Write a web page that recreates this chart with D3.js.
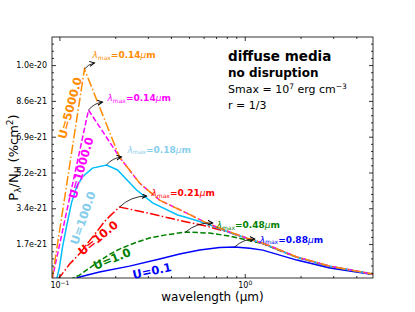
<!DOCTYPE html>
<html>
<head>
<meta charset="utf-8">
<script src="https://cdn.jsdelivr.net/npm/d3@7"></script>
<style>
  body { margin: 0; background: #fff; }
  svg { font-family: "DejaVu Sans", sans-serif; }
</style>
</head>
<body>
<div id="canvas"></div>
<script>
// P_lambda / N_H in units of 1e-21, wavelength in micron
var uValues = [0.1, 1.0, 10.0, 100.0, 1000.0, 5000.0];
var lambdaMax = [0.88, 0.48, 0.21, 0.18, 0.14, 0.14];

var curveU0_1 = [[0.1176,0],[0.1283,0.14],[0.1645,0.375],[0.2389,0.66],[0.3472,1.0],[0.4454,1.24],
  [0.571,1.43],[0.732,1.55],[0.883,1.58],[1.064,1.52],[1.251,1.43],[1.91,0.95],[2.88,0.57],[4.92,0.26]];
var curveU1 = [[0.1133,0],[0.1283,0.23],[0.1453,0.57],[0.1645,0.9],[0.1863,1.23],[0.211,1.48],[0.2543,1.77],
  [0.3066,2.01],[0.3694,2.15],[0.4799,2.3],[0.647,2.25],[0.8297,2.1],[1.105,1.85],[1.251,1.74],
  [1.91,1.08],[2.88,0.64],[4.92,0.27]];
var curveU10 = [[0.0975,0],[0.1038,0.3],[0.1133,0.75],[0.1283,1.25],[0.1417,1.75],[0.1585,2.3],[0.1751,2.8],
  [0.1863,3.05],[0.1995,3.3],[0.211,3.5],[0.2706,3.3],[0.3472,3.08],[0.486,2.78],[0.6233,2.58],
  [0.8297,2.27],[1.025,1.99],[1.251,1.75],[1.91,1.09],[2.88,0.65],[4.92,0.27]];
var curveU100 = [[0.0965,0],[0.1,0.6],[0.1038,1.55],[0.1091,2.54],[0.1161,3.69],[0.1236,4.46],[0.1331,4.94],
  [0.1507,5.37],[0.1795,5.52],[0.2058,5.28],[0.2607,4.32],[0.3184,3.7],[0.4345,3.12],[0.486,3.0],
  [0.6233,2.7],[0.8297,2.28],[1.025,2.0],[1.251,1.76],[1.91,1.09],[2.88,0.65],[4.92,0.27]];
var curveU1000 = [[0.0912,0],[0.1435,8.16],[0.175,7.0],[0.211,5.9],[0.2706,4.65],[0.3472,3.83],[0.486,3.21],
  [0.6233,2.73],[0.8297,2.3],[1.025,2.01],[1.251,1.77],[1.91,1.1],[2.88,0.66],[4.92,0.28]];
var curveU5000 = [[0.0912,0],[0.1365,10.13],[0.211,5.9],[0.2706,4.65],[0.3472,3.83],[0.486,3.21],
  [0.6233,2.73],[0.8297,2.3],[1.025,2.01],[1.251,1.77],[1.91,1.1],[2.88,0.66],[4.92,0.28]];

var curves = [curveU0_1, curveU1, curveU10, curveU100, curveU1000, curveU5000];

var yMajor = [1.72, 3.44, 5.16, 6.88, 8.6, 10.32];
var xMajor = [0.1, 1];
var xMinor = [0.2, 0.3, 0.4, 0.5, 0.6, 0.7, 0.8, 0.9, 2, 3, 4];

// styles
var lineColor = ['#0000ff', '#008000', '#ff0000', '#00bfff', '#ff00ff', '#ff8c00'];
var textColor = ['#0000ff', '#008000', '#ff0000', '#87ceeb', '#ff00ff', '#ff8c00'];
var dashes = [null, '5.5,2.4', '9.6,2.4,1.5,2.4', null, '5.5,2.4', '9.6,2.4,1.5,2.4'];
// U label: centre (px) and angle
var uLabelPos = [[152,271,-12],[112,259,-22],[98,238,-39],[83,218,-71],[81,168,-74],[70,108,-75]];
// lambda_max annotation: text offset and arrow end offset from the peak (px)
var annText = [[25,-4],[31,-4],[32,-11],[21,-12],[19,-9],[8,-11]];
var annArrow = [[20,-8],[27,-9],[27,-11],[15,-8],[14,-8],[10,-6]];

var m = {t:37, r:42, b:34, l:52},
    w = 415 - m.l - m.r,
    h = 312 - m.t - m.b;

var svg = d3.select('#canvas').append('svg')
  .attr('width', 415).attr('height', 312);

svg.append('defs').append('clipPath').attr('id', 'clip')
  .append('rect').attr('width', w).attr('height', h);

svg.select('defs').append('marker')
  .attr('id', 'head')
  .attr('markerUnits', 'userSpaceOnUse')
  .attr('markerWidth', 8).attr('markerHeight', 8)
  .attr('refX', 5).attr('refY', 2.5)
  .attr('orient', 'auto')
  .append('path')
  .attr('d', 'M0,0 L5,2.5 L0,5')
  .attr('fill', 'none').attr('stroke', '#000').attr('stroke-width', 1);

var plot = svg.append('g')
  .attr('transform', 'translate(' + m.l + ',' + m.t + ')');

var x = d3.scaleLog().domain([0.0912, 4.92]).range([0, w]);
var y = d3.scaleLinear().domain([0.09, 11.67]).range([h, 0]);

// curves
var line = d3.line()
  .x(function(d) { return x(d[0]); })
  .y(function(d) { return y(d[1]); });

plot.append('g').attr('clip-path', 'url(#clip)')
  .selectAll('path').data(curves).enter()
  .append('path')
  .attr('d', line)
  .attr('fill', 'none')
  .attr('stroke', function(d, i) { return lineColor[i]; })
  .attr('stroke-width', 1.5)
  .attr('stroke-dasharray', function(d, i) { return dashes[i]; });

// axes
var yMinor = d3.range(1, 34).filter(function(k) { return k % 5; })
  .map(function(k) { return k * 0.344; });

function styleAxis(g) {
  g.select('.domain').remove();
  g.selectAll('.tick line').attr('stroke', '#000').attr('stroke-width', 0.8);
  g.attr('font-family', null).attr('font-size', 8);
  g.selectAll('.tick text').attr('fill', '#000');
}

var fmt = d3.format('.1e');

plot.append('g').attr('transform', 'translate(0,' + h + ')')
  .call(d3.axisBottom(x).tickValues(xMajor).tickSize(-4).tickSizeOuter(0).tickPadding(4))
  .call(styleAxis)
  .selectAll('.tick text')
  .each(function(d) {
    var t = d3.select(this).text('');
    t.append('tspan').text('10');
    t.append('tspan').attr('dy', '-0.45em').attr('font-size', 6)
      .text(Math.round(Math.log10(d)) < 0 ? '\u22121' : '0');
  });
plot.append('g').attr('transform', 'translate(0,' + h + ')')
  .call(d3.axisBottom(x).tickValues(xMinor).tickSize(-2).tickSizeOuter(0).tickFormat(''))
  .call(styleAxis);
plot.append('g')
  .call(d3.axisTop(x).tickValues(xMajor).tickSize(-4).tickSizeOuter(0).tickFormat(''))
  .call(styleAxis);
plot.append('g')
  .call(d3.axisTop(x).tickValues(xMinor).tickSize(-2).tickSizeOuter(0).tickFormat(''))
  .call(styleAxis);

plot.append('g')
  .call(d3.axisLeft(y).tickValues(yMajor).tickSize(-4).tickSizeOuter(0).tickPadding(5)
    .tickFormat(function(d) { return fmt(d * 1e-21); }))
  .call(styleAxis);
plot.append('g')
  .call(d3.axisLeft(y).tickValues(yMinor).tickSize(-2).tickSizeOuter(0).tickFormat(''))
  .call(styleAxis);
plot.append('g').attr('transform', 'translate(' + w + ',0)')
  .call(d3.axisRight(y).tickValues(yMajor).tickSize(-4).tickSizeOuter(0).tickFormat(''))
  .call(styleAxis);
plot.append('g').attr('transform', 'translate(' + w + ',0)')
  .call(d3.axisRight(y).tickValues(yMinor).tickSize(-2).tickSizeOuter(0).tickFormat(''))
  .call(styleAxis);

plot.append('rect')
  .attr('width', w).attr('height', h)
  .attr('fill', 'none').attr('stroke', '#000').attr('stroke-width', 0.8);

// axis labels
plot.append('text')
  .attr('x', w / 2).attr('y', h + 23)
  .attr('text-anchor', 'middle').attr('font-size', 12)
  .text('wavelength (\u03bcm)');

var yl = svg.append('text')
  .attr('transform', 'translate(18,' + (m.t + h / 2) + ') rotate(-90)')
  .attr('text-anchor', 'middle').attr('font-size', 13);
yl.append('tspan').text('P');
yl.append('tspan').attr('font-size', 9).attr('dy', 3).text('\u03bb');
yl.append('tspan').attr('dy', -3).text('/N');
yl.append('tspan').attr('font-size', 9).attr('dy', 3).text('H');
yl.append('tspan').attr('dy', -3).text(' (%cm');
yl.append('tspan').attr('font-size', 9).attr('dy', -5).text('2');
yl.append('tspan').attr('dy', 5).text(')');

// U labels
plot.selectAll('.ulabel').data(uValues).enter()
  .append('text')
  .attr('class', 'ulabel')
  .attr('transform', function(d, i) {
    var p = uLabelPos[i];
    return 'translate(' + (p[0] - m.l) + ',' + (p[1] - m.t) + ') rotate(' + p[2] + ')';
  })
  .attr('text-anchor', 'middle').attr('dy', '0.35em')
  .attr('font-size', 11.5).attr('font-weight', 'bold')
  .attr('fill', function(d, i) { return textColor[i]; })
  .text(function(d) { return 'U=' + d3.format('.1f')(d); });

// lambda_max annotations
curves.forEach(function(c, i) {
  var pk = d3.greatest(c, function(d) { return d[1]; });
  var px = x(pk[0]), py = y(pk[1]);
  var ex = px + annArrow[i][0], ey = py + annArrow[i][1];
  var dx = ex - px, dy = ey - py, rad = 0.2;
  var cx = (px + ex) / 2 + rad * dy, cy = (py + ey) / 2 - rad * dx;
  plot.append('path')
    .attr('d', 'M' + px + ',' + py + ' Q' + cx + ',' + cy + ' ' + ex + ',' + ey)
    .attr('fill', 'none').attr('stroke', '#000').attr('stroke-width', 0.8)
    .attr('marker-end', 'url(#head)');

  var t = plot.append('text')
    .attr('x', px + annText[i][0]).attr('y', py + annText[i][1])
    .attr('font-size', 9).attr('font-weight', 'bold')
    .attr('fill', textColor[i]);
  t.append('tspan').attr('font-style', 'italic').attr('font-weight', 'normal').text('\u03bb');
  t.append('tspan').attr('font-size', 6).attr('font-weight', 'normal').attr('dy', 1.5).text('max');
  t.append('tspan').attr('dy', -1.5).text('=' + lambdaMax[i].toFixed(2));
  t.append('tspan').attr('font-style', 'italic').attr('font-weight', 'normal').text('\u03bc');
  t.append('tspan').text('m');
});

// text block
var tb = svg.append('g').attr('transform', 'translate(228,0)');
tb.append('text').attr('y', 61).attr('font-size', 13.5).attr('font-weight', 'bold').text('diffuse media');
tb.append('text').attr('y', 77).attr('font-size', 12).attr('font-weight', 'bold').text('no disruption');
var s = tb.append('text').attr('y', 93).attr('font-size', 11);
s.append('tspan').text('Smax = 10');
s.append('tspan').attr('font-size', 7.5).attr('dy', -4).text('7');
s.append('tspan').attr('dy', 4).text(' erg cm');
s.append('tspan').attr('font-size', 7.5).attr('dy', -4).text('\u22123');
tb.append('text').attr('y', 109).attr('font-size', 11).text('r = 1/3');
</script>
</body>
</html>
